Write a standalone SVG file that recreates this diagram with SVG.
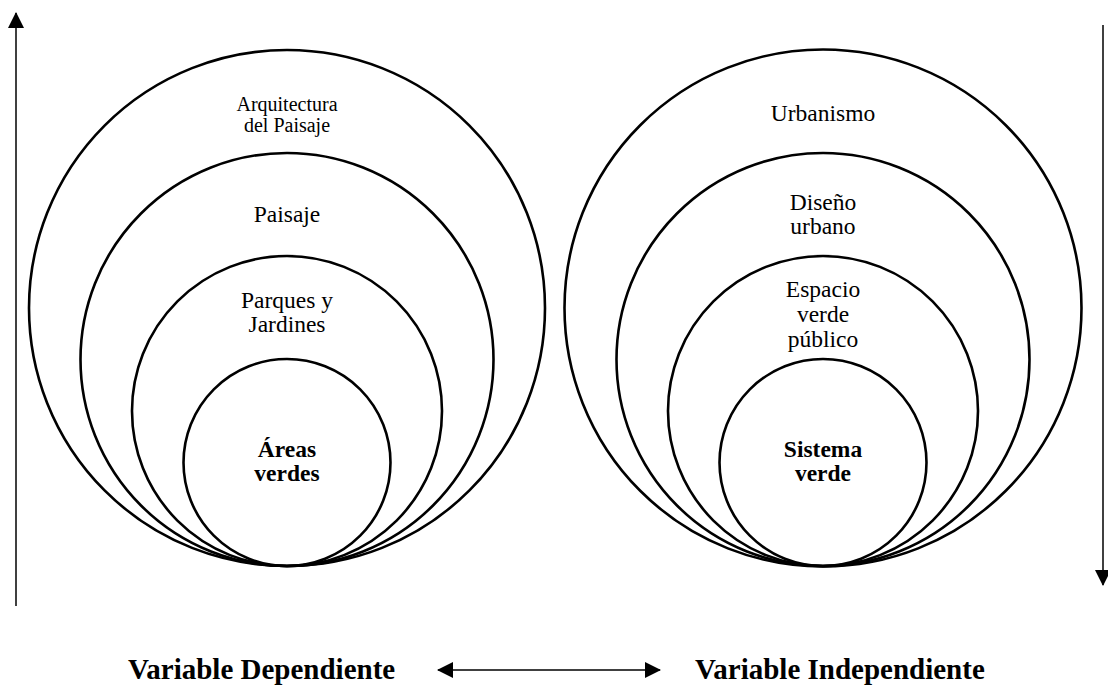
<svg xmlns="http://www.w3.org/2000/svg" width="1108" height="687" viewBox="0 0 1108 687">
  <style>
    .c { fill: none; stroke: #000; stroke-width: 2.6; }
    .t { font-family: "Liberation Serif", "Times New Roman", serif; font-size: 23.5px; fill: #000; text-anchor: middle; }
    .s { font-size: 20px; }
    .b { font-weight: bold; }
    .big { font-family: "Liberation Serif", "Times New Roman", serif; font-size: 29px; font-weight: bold; fill: #000; }
    .ln { stroke: #000; stroke-width: 1.5; fill: none; }
  </style>
  <defs>
    <marker id="ah" viewBox="0 0 16 16" refX="15" refY="8" markerUnits="userSpaceOnUse" markerWidth="16" markerHeight="16" orient="auto-start-reverse">
      <path d="M0,0 L16,8 L0,16 Z" fill="#000"/>
    </marker>
  </defs>
  <rect width="1108" height="687" fill="#fff"/>

  <g id="left-set">
    <g id="arquitectura-paisaje">
      <circle class="c" cx="287" cy="308" r="258"/>
      <text class="t s" x="287" y="111">Arquitectura</text>
      <text class="t s" x="287" y="132">del Paisaje</text>
    </g>
    <g id="paisaje">
      <circle class="c" cx="287" cy="359.5" r="206.5"/>
      <text class="t" x="287" y="222">Paisaje</text>
    </g>
    <g id="parques-jardines">
      <circle class="c" cx="287" cy="411" r="155"/>
      <text class="t" x="287" y="308">Parques y</text>
      <text class="t" x="287" y="332">Jardines</text>
    </g>
    <g id="areas-verdes">
      <circle class="c" cx="287" cy="462.5" r="103.5"/>
      <text class="t b" x="287" y="457">Áreas</text>
      <text class="t b" x="287" y="481">verdes</text>
    </g>
  </g>

  <g id="right-set">
    <g id="urbanismo">
      <circle class="c" cx="823" cy="308" r="258.5"/>
      <text class="t" x="823" y="121">Urbanismo</text>
    </g>
    <g id="diseno-urbano">
      <circle class="c" cx="823" cy="359.5" r="206.5"/>
      <text class="t" x="823" y="210">Diseño</text>
      <text class="t" x="823" y="234">urbano</text>
    </g>
    <g id="espacio-verde-publico">
      <circle class="c" cx="823" cy="411" r="155"/>
      <text class="t" x="823" y="297">Espacio</text>
      <text class="t" x="823" y="322">verde</text>
      <text class="t" x="823" y="347">público</text>
    </g>
    <g id="sistema-verde">
      <circle class="c" cx="823" cy="462.5" r="103.5"/>
      <text class="t b" x="823" y="457">Sistema</text>
      <text class="t b" x="823" y="481">verde</text>
    </g>
  </g>

  <g id="connectors">
    <line class="ln" x1="16" y1="606" x2="16" y2="13" marker-end="url(#ah)"/>
    <line class="ln" x1="1103" y1="25" x2="1103" y2="585" marker-end="url(#ah)"/>
    <line class="ln" x1="438" y1="670" x2="660" y2="670" marker-start="url(#ah)" marker-end="url(#ah)"/>
  </g>

  <g id="labels">
    <text class="big" x="128" y="679">Variable Dependiente</text>
    <text class="big" x="695" y="679">Variable Independiente</text>
  </g>
</svg>
